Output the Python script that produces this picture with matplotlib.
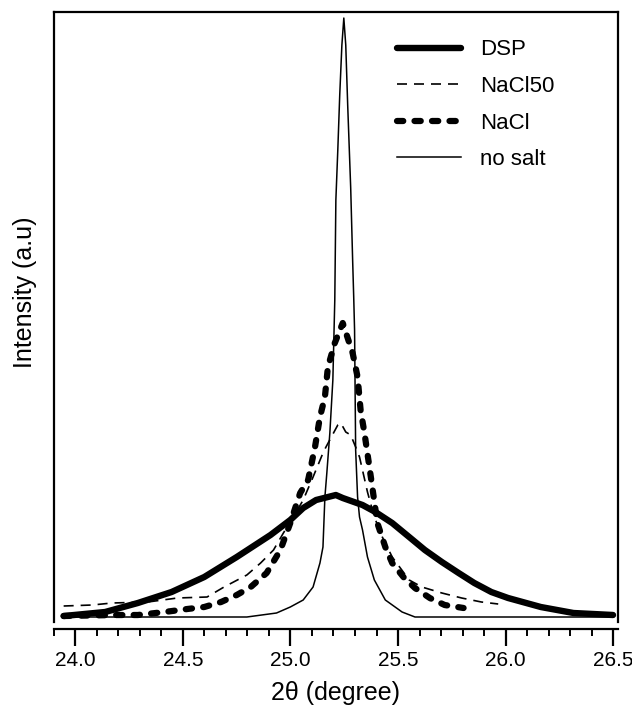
import numpy as np
import matplotlib
matplotlib.use("Agg")
import matplotlib.pyplot as plt
from matplotlib.transforms import ScaledTranslation

plt.rcParams['font.family'] = ['Liberation Sans', 'DejaVu Sans']

# 2theta (degree) and intensity (a.u.)
nosalt_x = [23.945, 24.599, 24.797, 24.935, 24.999, 25.059, 25.105, 25.137, 25.151, 25.160,
            25.169, 25.183, 25.197, 25.206, 25.211, 25.220, 25.229, 25.239, 25.248, 25.257,
            25.266, 25.280, 25.289, 25.294, 25.298, 25.303, 25.312, 25.321, 25.335, 25.358,
            25.390, 25.441, 25.519, 25.579, 26.500]
nosalt_y = [0, 0, 0, 4, 10, 17, 30, 54, 70, 120,
            144, 184, 237, 317, 417, 467, 522, 572, 599, 572,
            512, 429, 357, 320, 287, 167, 120, 100, 87, 60,
            37, 17, 5, 0, 0]

dsp_x = [23.945, 24.138, 24.290, 24.447, 24.599, 24.750, 24.907, 24.999, 25.059, 25.119,
         25.211, 25.243, 25.335, 25.395, 25.473, 25.552, 25.625, 25.704, 25.782, 25.855,
         25.934, 26.012, 26.164, 26.316, 26.500]
dsp_y = [1, 5, 14, 25, 40, 60, 82, 97, 109, 117,
         122, 119, 112, 105, 94, 80, 67, 55, 44, 34,
         25, 19, 10, 4, 2]

nacl_x = [23.945, 24.184, 24.290, 24.414, 24.520, 24.599, 24.677, 24.750, 24.815, 24.889,
          24.953, 24.999, 25.045, 25.082, 25.114, 25.137, 25.160, 25.174, 25.206, 25.243,
          25.289, 25.312, 25.326, 25.344, 25.367, 25.381, 25.404, 25.441, 25.473, 25.529,
          25.579, 25.648, 25.717, 25.805]
nacl_y = [1, 2, 2, 5, 8, 10, 15, 22, 30, 44,
          67, 94, 124, 137, 170, 200, 220, 250, 274, 294,
          264, 240, 207, 184, 150, 129, 94, 70, 54, 39,
          29, 19, 12, 9]

nacl50_x = [23.945, 24.078, 24.170, 24.336, 24.474, 24.612, 24.691, 24.797, 24.861, 24.921,
            24.967, 25.013, 25.059, 25.105, 25.151, 25.165, 25.220, 25.234, 25.257, 25.280,
            25.303, 25.321, 25.358, 25.390, 25.427, 25.473, 25.552, 25.611, 25.704, 25.796,
            25.888, 25.966]
nacl50_y = [11, 12, 14, 15, 19, 20, 30, 42, 54, 67,
            84, 100, 117, 140, 164, 170, 192, 194, 185, 182,
            170, 160, 125, 100, 80, 60, 37, 30, 24, 19,
            15, 13]

fig = plt.figure(figsize=(6.32, 7.12), dpi=100)
ax = fig.add_axes([0.0854, 0.1264, 0.8924, 0.8567])

ax.plot(dsp_x, dsp_y, color='black', lw=4.6, solid_capstyle='round',
        solid_joinstyle='round', label='DSP')
ax.plot(nacl50_x, nacl50_y, color='black', lw=1.2, ls=(0, (6, 4.2)), label='NaCl50')
ax.plot(nacl_x, nacl_y, color='black', lw=4.5, ls=(0, (1.0, 1.8)),
        dash_capstyle='round', label='NaCl')
ax.plot(nosalt_x, nosalt_y, color='black', lw=1.1, label='no salt')

ax.set_xlim(23.926, 26.523)
ax.set_ylim(-5, 605)
ax.set_xticks([24.0, 24.5, 25.0, 25.5, 26.0, 26.5])
ax.set_xticklabels(['24.0', '24.5', '25.0', '25.5', '26.0', '26.5'])
ax.set_xticks(np.arange(23.9, 26.55, 0.1), minor=True)
ax.set_yticks([])
ax.tick_params(axis='x', which='major', direction='out', length=12, width=1.6,
               labelsize=15, pad=4)
ax.tick_params(axis='x', which='minor', direction='out', length=5, width=1.4)
shift = ScaledTranslation(-4 / 100, 0, fig.dpi_scale_trans)
for lab in ax.get_xticklabels():
    lab.set_transform(lab.get_transform() + shift)

for s in ax.spines.values():
    s.set_linewidth(1.6)
ax.spines['bottom'].set_position(('outward', 5))

ax.set_xlabel('2θ (degree)', fontsize=18, labelpad=8)
ax.set_ylabel('Intensity (a.u)', fontsize=18)
ax.yaxis.set_label_coords(-0.030, 0.54)

ax.legend(loc='upper left', bbox_to_anchor=(0.608, 0.955), frameon=False,
          fontsize=16, handlelength=2.9, handletextpad=0.85, labelspacing=0.7,
          borderaxespad=0, borderpad=0)

fig.savefig('out.png', dpi=100)
